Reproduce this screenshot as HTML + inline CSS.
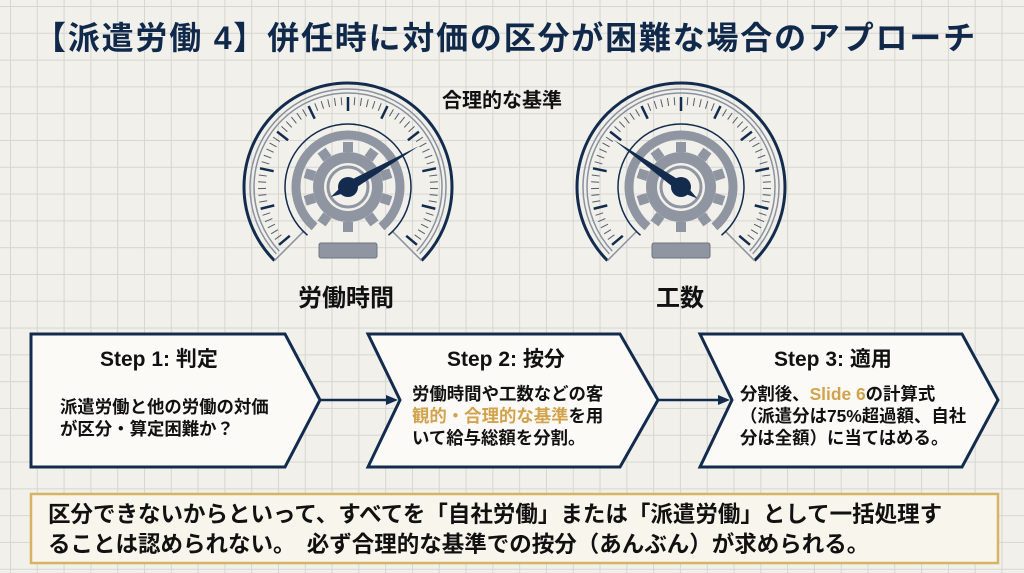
<!DOCTYPE html>
<html><head><meta charset="utf-8"><style>
html,body{margin:0;padding:0}
body{width:1024px;height:573px;overflow:hidden;position:relative;font-family:"Liberation Sans","Noto Sans CJK JP",sans-serif;
background-color:#f1f0eb;
background-image:linear-gradient(#d6d6d2 1px,transparent 1px),linear-gradient(90deg,#d6d6d2 1px,transparent 1px);
background-size:26.8px 26.8px;background-position:10px 6px;}
.t{position:absolute;white-space:nowrap;color:#111;font-weight:bold}
</style></head><body>
<div class="t" style="left:34px;top:13px;font-size:32px;color:#10294a;letter-spacing:1.8px">【派遣労働 4】併任時に対価の区分が困難な場合のアプローチ</div>
<div class="t" style="left:442px;top:84px;font-size:20px">合理的な基準</div>
<div class="t" style="left:298px;top:278px;font-size:24px">労働時間</div>
<div class="t" style="left:656px;top:278px;font-size:24px">工数</div>
<svg id="s" width="1024" height="573" style="position:absolute;left:0;top:0" xmlns="http://www.w3.org/2000/svg">
<g fill="#fbfaf6" stroke="#132c4e" stroke-width="3" stroke-linejoin="miter">
<polygon points="31,334 285,334 320,400 285,467 31,467"/>
<polygon points="368,334 620,334 658,400 620,467 368,467 400,400"/>
<polygon points="700,334 962,334 998,400 962,467 700,467 732,400"/>
</g>
<g stroke="#132c4e" stroke-width="2.5" fill="#132c4e">
<line x1="320" y1="400" x2="390" y2="400"/><polygon points="398,400 386,395 386,405" stroke="none"/>
<line x1="658" y1="400" x2="722" y2="400"/><polygon points="730,400 718,395 718,405" stroke="none"/>
</g>
<rect x="31" y="494" width="967" height="69" fill="#f8f5ec" stroke="#d8b364" stroke-width="2.5"/>
</svg>
<div class="t" style="left:100px;top:343px;font-size:21px">Step 1: 判定</div>
<div class="t" style="left:60px;top:396px;font-size:17.4px;line-height:22px">派遣労働と他の労働の対価<br>が区分・算定困難か？</div>
<div class="t" style="left:447px;top:343px;font-size:21px">Step 2: 按分</div>
<div class="t" style="left:412px;top:383px;font-size:17.4px;line-height:22px">労働時間や工数などの客<br><span style="color:#d2a24c">観的・合理的な基準</span>を用<br>いて給与総額を分割。</div>
<div class="t" style="left:774px;top:343px;font-size:21px">Step 3: 適用</div>
<div class="t" style="left:740px;top:383px;font-size:17.4px;line-height:22px">分割後、<span style="color:#d2a24c">Slide 6</span>の計算式<br>（派遣分は75%超過額、自社<br>分は全額）に当てはめる。</div>
<div class="t" style="left:48px;top:500px;font-size:22.5px;line-height:30px">区分できないからといって、すべてを「自社労働」または「派遣労働」として一括処理す<br>ることは認められない。　必ず合理的な基準での按分（あんぶん）が求められる。</div>
<script>
const s=document.getElementById('s');const NS='http://www.w3.org/2000/svg';
function el(n,a){const e=document.createElementNS(NS,n);for(const k in a)e.setAttribute(k,a[k]);s.appendChild(e);return e;}
function pt(cx,cy,r,deg){const a=(deg-90)*Math.PI/180;return [cx+r*Math.cos(a),cy+r*Math.sin(a)];}
function arc(cx,cy,r,a0,a1){const p=pt(cx,cy,r,a0),q=pt(cx,cy,r,a1);const large=(a1-a0)>180?1:0;return `M${p[0]},${p[1]} A${r},${r} 0 ${large} 1 ${q[0]},${q[1]}`;}
function gauge(cx,cy,needle){
 el('path',{d:arc(cx,cy,104,-135,135),fill:'none',stroke:'#132c4e','stroke-width':3});
 el('path',{d:arc(cx,cy,98,-133,133),fill:'none',stroke:'#8a929e','stroke-width':1.5});
 el('path',{d:arc(cx,cy,94,-133,133),fill:'none',stroke:'#8a929e','stroke-width':1.5});
 for(let i=0;i<=60;i++){const d=-130+i*260/60;const big=i%6==0;const p=pt(cx,cy,90,d),q=pt(cx,cy,big?76:82,d);
  el('line',{x1:p[0],y1:p[1],x2:q[0],y2:q[1],stroke:big?'#132c4e':'#555c66','stroke-width':big?2.5:1});}
 [-135,135].forEach(d=>{const p=pt(cx,cy,104,d),q=pt(cx,cy,62,d);el('line',{x1:p[0],y1:p[1],x2:q[0],y2:q[1],stroke:'#8a929e','stroke-width':1.5});});
 el('path',{d:arc(cx,cy,63,-140,140),fill:'none',stroke:'#132c4e','stroke-width':1.5});
 el('path',{d:arc(cx,cy,52,-140,140),fill:'none',stroke:'#8f96a1','stroke-width':9});
 for(let i=0;i<10;i++){const d=i*36;const p=pt(cx,cy,40,d);el('rect',{x:p[0]-5,y:p[1]-5,width:10,height:10,fill:'#8f96a1',transform:`rotate(${d} ${p[0]} ${p[1]})`});}
 el('circle',{cx,cy,r:35,fill:'#8f96a1'});
 el('circle',{cx,cy,r:24,fill:'#f1f0eb'});
 el('circle',{cx,cy,r:20,fill:'none',stroke:'#8f96a1','stroke-width':3});
 el('rect',{x:cx-29,y:cy+56,width:58,height:15,rx:2,fill:'#8f96a1',stroke:'#6e7580'});
 const t=pt(cx,cy,82,needle),b=pt(cx,cy,20,needle+180),l=pt(cx,cy,5,needle-90),r=pt(cx,cy,5,needle+90);
 el('polygon',{points:`${t} ${l} ${b} ${r}`,fill:'#132c4e'});
 el('circle',{cx,cy,r:10,fill:'#132c4e'});
}
gauge(348,187,60);gauge(681,187,-55);
</script>
</body></html>
